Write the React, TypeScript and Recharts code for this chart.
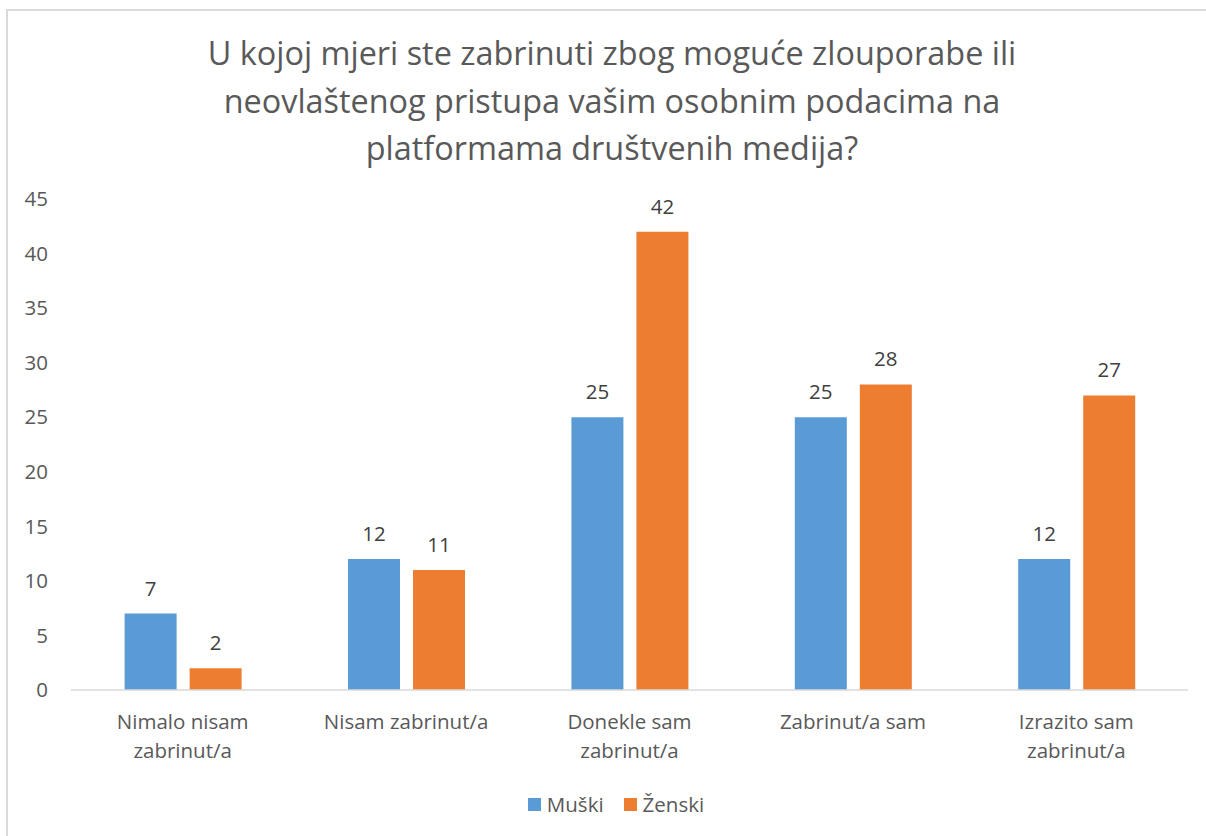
import React from 'react';
import { BarChart, Bar, XAxis, YAxis, LabelList } from 'recharts';

const categories = ['Nimalo nisam\nzabrinut/a', 'Nisam zabrinut/a', 'Donekle sam\nzabrinut/a', 'Zabrinut/a sam', 'Izrazito sam\nzabrinut/a'];
const muski = [7, 12, 25, 25, 12];
const zenski = [2, 11, 42, 28, 27];
const yTicks = [0, 5, 10, 15, 20, 25, 30, 35, 40, 45];
const seriesNames = ['Muški', 'Ženski'];
const seriesColors = ['#5B9BD5', '#ED7D31'];
const titleLines = [
  'U kojoj mjeri ste zabrinuti zbog moguće zlouporabe ili',
  'neovlaštenog pristupa vašim osobnim podacima na',
  'platformama društvenih medija?',
];

const data = categories.map((c, i) => ({ name: c, m: muski[i], z: zenski[i] }));

const FONT = '"Open Sans", sans-serif';
const FS = 20.5;

const XTick = (props: any) => {
  const { x, y, payload } = props;
  const lines = String(payload.value).split('\n');
  return (
    <text x={x} y={y} textAnchor="middle" fill="#595959" fontSize={FS} fontFamily={FONT}>
      {lines.map((l: string, i: number) => (
        <tspan key={i} x={x} y={y + 31 + i * 29}>{l}</tspan>
      ))}
    </text>
  );
};

export default function App() {
  return (
    <div style={{ position: 'absolute', left: 0, top: 0, width: 1206, height: 836, overflow: 'hidden', background: '#fff', fontFamily: FONT }}>
      <div style={{ position: 'absolute', left: 6, top: 9, width: 1220, height: 900, border: '2px solid #d9d9d9' }} />
      <div style={{ position: 'absolute', left: 0, top: 29, width: 1224, textAlign: 'center', fontSize: 32.4, lineHeight: '47.5px', color: '#595959' }}>
        {titleLines.map((t, i) => <div key={i}>{t}</div>)}
      </div>
      <div style={{ position: 'absolute', left: 0, top: 0 }}>
        <BarChart width={1206} height={836} data={data} margin={{ top: 199, right: 18, bottom: 116, left: 0 }} barCategoryGap="24%" barGap={13}>
          <XAxis dataKey="name" height={30} axisLine={{ stroke: '#d9d9d9', strokeWidth: 1.5 }} tickLine={false} tick={<XTick />} interval={0} />
          <YAxis width={71} domain={[0, 45]} ticks={yTicks} axisLine={false} tickLine={false} tickMargin={17}
            tick={{ fill: '#595959', fontSize: FS, fontFamily: FONT }} />
          <Bar dataKey="m" name={seriesNames[0]} fill={seriesColors[0]} isAnimationActive={false}>
            <LabelList dataKey="m" position="top" offset={18} fill="#404040" fontSize={FS} fontFamily={FONT} />
          </Bar>
          <Bar dataKey="z" name={seriesNames[1]} fill={seriesColors[1]} isAnimationActive={false}>
            <LabelList dataKey="z" position="top" offset={18} fill="#404040" fontSize={FS} fontFamily={FONT} />
          </Bar>
        </BarChart>
      </div>
      <div style={{ position: 'absolute', left: 0, top: 789, width: 1232, display: 'flex', justifyContent: 'center', alignItems: 'center', fontSize: FS, lineHeight: '30px', color: '#595959' }}>
        {seriesNames.map((n, i) => (
          <div key={n} style={{ display: 'flex', alignItems: 'center', marginRight: i === 0 ? 20 : 0 }}>
            <span style={{ display: 'inline-block', width: 13, height: 13, background: seriesColors[i], marginRight: 6 }} />
            <span>{n}</span>
          </div>
        ))}
      </div>
    </div>
  );
}
